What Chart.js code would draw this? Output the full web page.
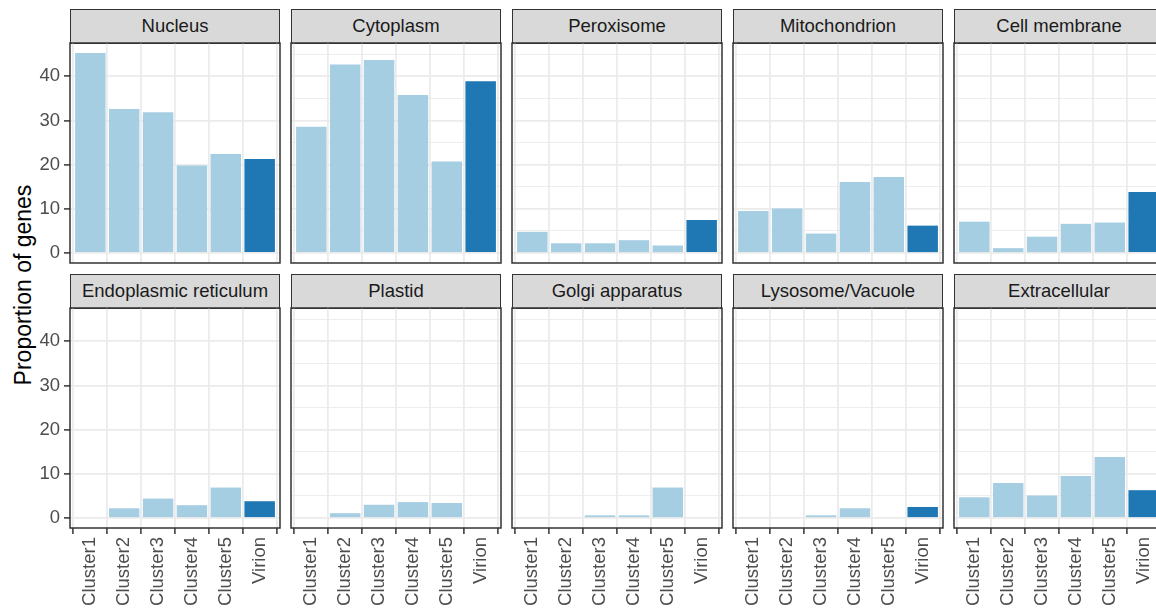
<!DOCTYPE html>
<html>
<head>
<meta charset="utf-8">
<script src="https://cdn.jsdelivr.net/npm/chart.js@4.4.1/dist/chart.umd.min.js"></script>
<style>
html, body { margin:0; padding:0; background:#fff; }
body { width:1156px; height:612px; overflow:hidden; position:relative; font-family:"Liberation Sans", Arial, sans-serif; }
.strip { position:absolute; box-sizing:border-box; background:#d9d9d9; border:1.5px solid #333;
         font-size:18.5px; color:#1a1a1a; text-align:center; line-height:31px; white-space:nowrap; overflow:hidden; }
canvas { position:absolute; }
#ytitle { position:absolute; width:400px; height:28px; line-height:28px; text-align:center;
          font-size:23px; color:#000; transform:rotate(-90deg); transform-origin:50% 50%; white-space:nowrap; }
</style>
</head>
<body>
<div id="ytitle">Proportion of genes</div>
<script>
// ---------- data ----------
const categories = ['Cluster1', 'Cluster2', 'Cluster3', 'Cluster4', 'Cluster5', 'Virion'];
const compartments = ['Nucleus', 'Cytoplasm', 'Peroxisome', 'Mitochondrion', 'Cell membrane',
                      'Endoplasmic reticulum', 'Plastid', 'Golgi apparatus', 'Lysosome/Vacuole', 'Extracellular'];
const nucleus       = [45.3, 32.6, 31.9, 19.8, 22.4, 21.3];
const cytoplasm     = [28.6, 42.7, 43.7, 35.8, 20.7, 38.9];
const peroxisome    = [4.8, 2.2, 2.2, 2.9, 1.7, 7.5];
const mitochondrion = [9.5, 10.1, 4.4, 16.1, 17.2, 6.2];
const cellMembrane  = [7.1, 1.1, 3.7, 6.6, 6.9, 13.8];
const endoplasmic   = [0, 2.2, 4.4, 2.9, 6.9, 3.8];
const plastid       = [0, 1.1, 3.0, 3.6, 3.4, 0];
const golgi         = [0, 0, 0.6, 0.6, 6.9, 0];
const lysosome      = [0, 0, 0.6, 2.2, 0, 2.5];
const extracellular = [4.7, 7.9, 5.1, 9.5, 13.8, 6.3];
const yMajorTicks = [0, 10, 20, 30, 40];
const yMinorTicks = [5, 15, 25, 35, 45];

const seriesList = [nucleus, cytoplasm, peroxisome, mitochondrion, cellMembrane,
                    endoplasmic, plastid, golgi, lysosome, extracellular];

// ---------- style / layout ----------
const LIGHT = '#a6cee3', DARK = '#1f78b4';
const FONT = 'Liberation Sans';
Chart.defaults.font.family = FONT;
const P = 3;                 // canvas margin round the panel
const PANEL_W = 210, PANEL_H = 220;
const YAXIS_W = 40, XAXIS_H = 84;
const STRIP_H = 34;
const colLeft = i => 70 + 221 * i;
const rowTop = [43, 308];

const dataMax = Math.max(...seriesList.flat());
const yMin = -0.05 * dataMax, yMax = dataMax * 1.05;
const allYTicks = [...yMajorTicks, ...yMinorTicks].sort((a, b) => a - b);

const title = document.getElementById('ytitle');
title.style.left = (23 - 200) + 'px';
title.style.top = (285 - 14) + 'px';

const panelBorder = {
  id: 'panelBorder',
  afterDraw(chart) {
    const { ctx, chartArea: a } = chart;
    ctx.save();
    ctx.strokeStyle = '#333';
    ctx.lineWidth = 1.5;
    ctx.strokeRect(a.left, a.top, a.width, a.height);
    ctx.restore();
  }
};

compartments.forEach((name, k) => {
  const row = Math.floor(k / 5), col = k % 5;
  const left = colLeft(col), top = rowTop[row];
  const showY = col === 0, showX = row === 1;

  const strip = document.createElement('div');
  strip.className = 'strip';
  strip.textContent = name;
  strip.style.left = left + 'px';
  strip.style.top = (top - STRIP_H) + 'px';
  strip.style.width = PANEL_W + 'px';
  strip.style.height = (STRIP_H + 1) + 'px';
  document.body.appendChild(strip);

  const cv = document.createElement('canvas');
  const w = PANEL_W + 2 * P + (showY ? YAXIS_W : 0);
  const h = PANEL_H + 2 * P + (showX ? XAXIS_H : 0);
  cv.width = w; cv.height = h;
  cv.style.width = w + 'px'; cv.style.height = h + 'px';
  cv.style.left = (left - P - (showY ? YAXIS_W : 0)) + 'px';
  cv.style.top = (top - P) + 'px';
  document.body.appendChild(cv);

  const values = seriesList[k];
  new Chart(cv.getContext('2d'), {
    type: 'bar',
    data: {
      datasets: [{
        data: values.map((v, i) => ({ x: i + 1, y: v })),
        backgroundColor: categories.map(c => c === 'Virion' ? DARK : LIGHT),
        borderWidth: 0,
        categoryPercentage: 1.0,
        barPercentage: 0.9
      }]
    },
    options: {
      responsive: false,
      animation: false,
      devicePixelRatio: 1,
      layout: { padding: P, autoPadding: false },
      plugins: { legend: { display: false }, tooltip: { enabled: false } },
      scales: {
        x: {
          type: 'linear',
          min: 0.4, max: 6.6,
          offset: false,
          border: { display: false },
          grid: {
            color: '#ebebeb', lineWidth: 1.8,
            drawTicks: showX, tickLength: 6, tickColor: '#333', tickWidth: 1.5
          },
          ticks: {
            display: showX,
            autoSkip: false,
            minRotation: 90, maxRotation: 90,
            padding: 3,
            color: '#4d4d4d',
            font: { family: FONT, size: 18.5 },
            callback: v => categories[Math.round(v) - 1] ?? ''
          },
          afterBuildTicks: s => { s.ticks = categories.map((c, i) => ({ value: i + 1 })); },
          afterFit: s => {
            s.height = showX ? XAXIS_H : 0;
            s.paddingLeft = 0; s.paddingRight = 0; s.paddingTop = 0; s.paddingBottom = 0;
          }
        },
        y: {
          type: 'linear',
          min: yMin, max: yMax,
          border: { display: false },
          grid: {
            color: '#ebebeb',
            lineWidth: c => yMajorTicks.includes(c.tick && c.tick.value) ? 1.8 : 0.9,
            drawTicks: showY, tickLength: 6,
            tickColor: c => yMajorTicks.includes(c.tick && c.tick.value) ? '#333' : 'rgba(0,0,0,0)',
            tickWidth: 1.5
          },
          ticks: {
            display: showY,
            padding: 4,
            color: '#4d4d4d',
            font: { family: FONT, size: 18.5 },
            callback: v => yMajorTicks.includes(v) ? String(v) : ''
          },
          afterBuildTicks: s => { s.ticks = allYTicks.map(v => ({ value: v })); },
          afterFit: s => {
            s.width = showY ? YAXIS_W : 0;
            s.paddingLeft = 0; s.paddingRight = 0; s.paddingTop = 0; s.paddingBottom = 0;
          }
        }
      }
    },
    plugins: [panelBorder]
  });
});
</script>
</body>
</html>
